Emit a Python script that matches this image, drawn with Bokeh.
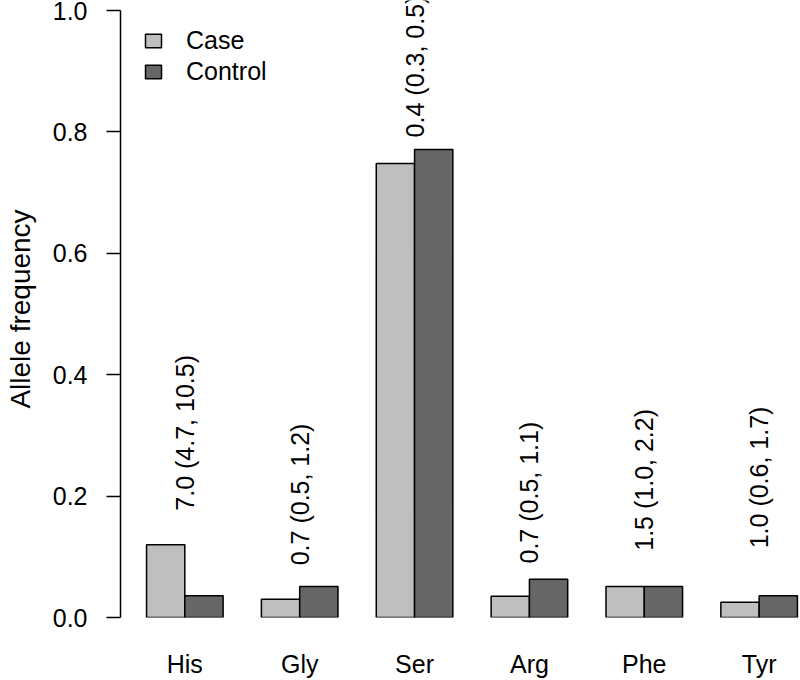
import numpy as np
from bokeh.plotting import figure
from bokeh.models import (ColumnDataSource, Range1d, FixedTicker, PrintfTickFormatter,
                          Legend, LegendItem, Label)
from bokeh.embed import file_html
from bokeh.resources import INLINE

# ---- data ----
categories = ["His", "Gly", "Ser", "Arg", "Phe", "Tyr"]
case_freq = [0.120, 0.030, 0.748, 0.035, 0.051, 0.025]
control_freq = [0.036, 0.051, 0.771, 0.063, 0.051, 0.036]
or_labels = ["7.0 (4.7, 10.5)", "0.7 (0.5, 1.2)", "0.4 (0.3, 0.5)",
             "0.7 (0.5, 1.1)", "1.5 (1.0, 2.2)", "1.0 (0.6, 1.7)"]
label_heights = [0.176, 0.086, 0.791, 0.089, 0.110, 0.114]

FONT = "Liberation Sans"
CASE_COLOR = "#bfbfbf"
CONTROL_COLOR = "#666666"

n = len(categories)
idx = np.arange(n)
# barplot(beside=TRUE) layout: each group = gap of 1 + two bars of width 1
case_x = 1.5 + 3 * idx
control_x = 2.5 + 3 * idx
group_x = 2.0 + 3 * idx

src_case = ColumnDataSource(dict(x=case_x, top=case_freq))
src_ctrl = ColumnDataSource(dict(x=control_x, top=control_freq))

p = figure(width=800, height=680, output_backend="svg", toolbar_location=None,
           x_range=Range1d(0.32, 18.08), y_range=Range1d(0, 1.0165),
           min_border_left=120, min_border_right=0, min_border_top=0,
           min_border_bottom=63)
p.outline_line_color = None
p.xgrid.visible = False
p.ygrid.visible = False
p.background_fill_color = "white"
p.border_fill_color = "white"

r_case = p.vbar(x="x", top="top", bottom=0, width=1.0, source=src_case,
                fill_color=CASE_COLOR, line_color="black", line_width=1.5)
r_ctrl = p.vbar(x="x", top="top", bottom=0, width=1.0, source=src_ctrl,
                fill_color=CONTROL_COLOR, line_color="black", line_width=1.5)

# odds-ratio annotations above each group (rotated, reading upwards)
for gx, gy, txt in zip(group_x, label_heights, or_labels):
    p.add_layout(Label(x=float(gx), y=gy, text=txt, angle=np.pi / 2,
                       text_align="left", text_baseline="middle",
                       text_font=FONT, text_font_size="25px",
                       text_color="black"))

# y axis (line drawn only from 0 to 1, like R's axis)
ya = p.yaxis[0]
ya.bounds = (0, 1)
ya.ticker = FixedTicker(ticks=[0.0, 0.2, 0.4, 0.6, 0.8, 1.0])
ya.formatter = PrintfTickFormatter(format="%.1f")
ya.axis_line_width = 1.5
ya.major_tick_line_width = 1.5
ya.major_tick_out = 14
ya.major_tick_in = 0
ya.minor_tick_out = 0
ya.minor_tick_in = 0
ya.major_label_standoff = 19
ya.major_label_text_font = FONT
ya.major_label_text_font_size = "25px"
ya.major_label_text_color = "black"
ya.axis_label = "Allele frequency"
ya.axis_label_text_font = FONT
ya.axis_label_text_font_size = "28px"
ya.axis_label_text_font_style = "normal"
ya.axis_label_text_color = "black"
ya.axis_label_standoff = 14

# x axis
xa = p.xaxis[0]
xa.ticker = FixedTicker(ticks=list(group_x))
xa.major_label_overrides = {float(g): c for g, c in zip(group_x, categories)}
xa.axis_line_color = None
xa.major_tick_line_color = None
xa.minor_tick_line_color = None
xa.major_label_standoff = 26
xa.major_label_text_font = FONT
xa.major_label_text_font_size = "25px"
xa.major_label_text_color = "black"

legend = Legend(items=[LegendItem(label="Case", renderers=[r_case]),
                       LegendItem(label="Control", renderers=[r_ctrl])],
                location=(23, 531), padding=0, margin=0, spacing=2,
                glyph_width=20, glyph_height=17, label_standoff=23,
                label_text_font=FONT, label_text_font_size="25px",
                label_text_color="black",
                border_line_color=None, background_fill_alpha=0)
p.add_layout(legend)

open("out.html", "w").write(file_html(p, INLINE))
